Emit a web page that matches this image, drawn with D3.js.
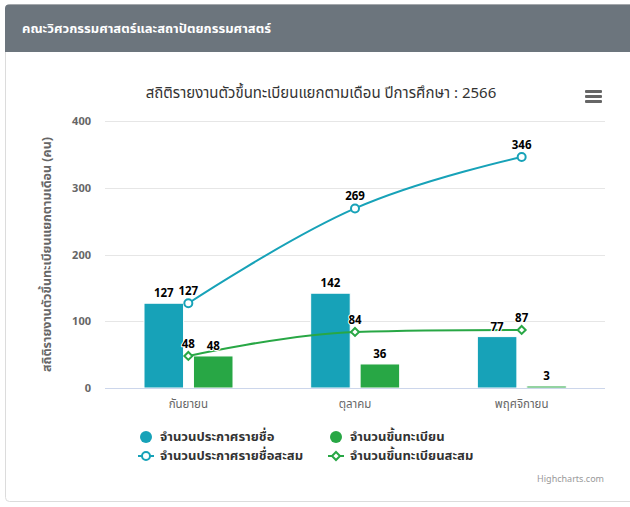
<!DOCTYPE html>
<html><head><meta charset="utf-8">
<script src="https://cdn.jsdelivr.net/npm/d3@7"></script>
<style>
body{margin:0;background:#fff;font-family:"Noto Sans Thai","Tahoma","DejaVu Sans",sans-serif;}
svg{display:block}
</style></head>
<body>
<svg id="c" width="630" height="507"></svg>
<script>
const categories = ["กันยายน", "ตุลาคม", "พฤศจิกายน"];
const announced = [127, 142, 77];
const registered = [48, 36, 3];
const announcedCum = [127, 269, 346];
const registeredCum = [48, 84, 87];
const yTicks = [0, 100, 200, 300, 400];
const seriesNames = ["จำนวนประกาศรายชื่อ", "จำนวนขึ้นทะเบียน", "จำนวนประกาศรายชื่อสะสม", "จำนวนขึ้นทะเบียนสะสม"];
const chartTitle = "สถิติรายงานตัวขึ้นทะเบียนแยกตามเดือน ปีการศึกษา : 2566";
const yTitle = "สถิติรายงานตัวขึ้นทะเบียนแยกตามเดือน (คน)";
const headerText = "คณะวิศวกรรมศาสตร์และสถาปัตยกรรมศาสตร์";

const BLUE = "#17a2b8", GREEN = "#28a745";
const svg = d3.select("#c");

// card
svg.append("rect").attr("x", 5.5).attr("y", 4.5).attr("width", 640).attr("height", 497)
  .attr("rx", 4).attr("fill", "#fff").attr("stroke", "#dcdcdc");
svg.append("path").attr("d", "M5,52 V8.5 a4,4 0 0 1 4,-4 H640 V52 Z").attr("fill", "#6c757d");
svg.append("text").attr("x", 22).attr("y", 33).attr("fill", "#fff").attr("font-size", 13)
  .attr("font-weight", "bold").text(headerText);

const L = 105, R = 605, T = 121, B = 388;
const x = d3.scaleBand().domain(categories).range([L, R]);
const y = d3.scaleLinear().domain([0, 400]).range([B, T]);

// title
svg.append("text").attr("x", 321).attr("y", 98).attr("text-anchor", "middle")
  .attr("font-size", 15).attr("fill", "#333").text(chartTitle);
// menu icon
[0, 5, 10].forEach(d => svg.append("rect").attr("x", 585).attr("y", 90 + d).attr("width", 17).attr("height", 3)
  .attr("fill", "#666").attr("rx", 1));

// grid
svg.append("g").selectAll("line").data(yTicks.filter(d => d > 0)).join("line")
  .attr("x1", L).attr("x2", R).attr("y1", d => Math.round(y(d)) + 0.5).attr("y2", d => Math.round(y(d)) + 0.5)
  .attr("stroke", "#e6e6e6");
// y labels
svg.append("g").selectAll("text").data(yTicks).join("text")
  .attr("x", 91).attr("y", d => y(d) + 4).attr("text-anchor", "end")
  .attr("font-size", 11).attr("font-weight", "bold").attr("fill", "#666").text(d => d);
// y title
svg.append("text").attr("transform", `translate(51,${(T + B) / 2}) rotate(-90)`).attr("text-anchor", "middle")
  .attr("font-size", 12.5).attr("font-weight", "bold").attr("fill", "#666").text(yTitle);

// bars
const bw = x.bandwidth();
const sub = d3.scaleBand().domain([0, 1]).range([bw * 0.234, bw * 0.768]).paddingInner(0.2);
function bars(vals, idx, color) {
  svg.append("g").selectAll("rect").data(vals).join("rect")
    .attr("x", (d, i) => x(categories[i]) + sub(idx)).attr("width", sub.bandwidth())
    .attr("y", d => y(d)).attr("height", d => B - y(d)).attr("fill", color)
    .attr("stroke", "#fff").attr("stroke-width", 1);
}
bars(announced, 0, BLUE);
bars(registered, 1, GREEN);

// x axis
svg.append("line").attr("x1", L).attr("x2", R).attr("y1", B + 0.5).attr("y2", B + 0.5).attr("stroke", "#ccd6eb");
svg.append("g").selectAll("text").data(categories).join("text")
  .attr("x", d => x(d) + x.bandwidth() / 2).attr("y", 408).attr("text-anchor", "middle")
  .attr("font-size", 11.5).attr("fill", "#666").text(d => d);

// highcharts-like spline
function spline(pts) {
  const sm = 1.5, den = sm + 1;
  const cps = pts.map((p, i) => {
    if (i === 0 || i === pts.length - 1) return null;
    const a = pts[i - 1], n = pts[i + 1];
    let lx = (sm * p[0] + a[0]) / den, ly = (sm * p[1] + a[1]) / den;
    let rx = (sm * p[0] + n[0]) / den, ry = (sm * p[1] + n[1]) / den;
    if (rx !== lx) {
      const corr = ((ry - ly) * (rx - p[0])) / (rx - lx) + p[1] - ry;
      ly += corr; ry += corr;
    }
    if (ly > a[1] && ly > p[1]) { ly = Math.max(a[1], p[1]); ry = 2 * p[1] - ly; }
    else if (ly < a[1] && ly < p[1]) { ly = Math.min(a[1], p[1]); ry = 2 * p[1] - ly; }
    if (ry > n[1] && ry > p[1]) { ry = Math.max(n[1], p[1]); ly = 2 * p[1] - ry; }
    else if (ry < n[1] && ry < p[1]) { ry = Math.min(n[1], p[1]); ly = 2 * p[1] - ry; }
    return {lx, ly, rx, ry};
  });
  const path = d3.path();
  path.moveTo(pts[0][0], pts[0][1]);
  for (let i = 1; i < pts.length; i++) {
    const prev = cps[i - 1], cur = cps[i];
    path.bezierCurveTo(prev ? prev.rx : pts[i - 1][0], prev ? prev.ry : pts[i - 1][1],
      cur ? cur.lx : pts[i][0], cur ? cur.ly : pts[i][1], pts[i][0], pts[i][1]);
  }
  return path.toString();
}
function lineSeries(vals, color, diamond) {
  const pts = vals.map((v, i) => [x(categories[i]) + x.bandwidth() / 2, y(v)]);
  svg.append("path").attr("d", spline(pts)).attr("fill", "none").attr("stroke", color).attr("stroke-width", 2);
  pts.forEach(p => marker(p[0], p[1], color, diamond));
  return pts;
}
function marker(cx, cy, color, diamond) {
  if (diamond) svg.append("path").attr("d", `M${cx},${cy - 4}L${cx + 4},${cy}L${cx},${cy + 4}L${cx - 4},${cy}Z`)
    .attr("fill", "#fff").attr("stroke", color).attr("stroke-width", 2);
  else svg.append("circle").attr("cx", cx).attr("cy", cy).attr("r", 4).attr("fill", "#fff")
    .attr("stroke", color).attr("stroke-width", 2);
}
const p1 = lineSeries(announcedCum, BLUE, false);
const p2 = lineSeries(registeredCum, GREEN, true);

// data labels
function label(tx, ty, t) {
  const g = svg.append("g");
  g.append("text").attr("x", tx).attr("y", ty).attr("text-anchor", "middle").attr("font-size", 11.5)
    .attr("font-weight", "bold").attr("stroke", "#fff").attr("stroke-width", 2).attr("stroke-linejoin", "round")
    .attr("fill", "#fff").text(t);
  g.append("text").attr("x", tx).attr("y", ty).attr("text-anchor", "middle").attr("font-size", 11.5)
    .attr("font-weight", "bold").attr("fill", "#000").text(t);
}
announced.forEach((v, i) => label(x(categories[i]) + sub(0) + sub.bandwidth() / 2, y(v) - 6, v));
registered.forEach((v, i) => label(x(categories[i]) + sub(1) + sub.bandwidth() / 2, y(v) - 6, v));
announcedCum.forEach((v, i) => label(p1[i][0], p1[i][1] - 8, v));
registeredCum.forEach((v, i) => label(p2[i][0], p2[i][1] - 8, v));

// legend
const leg = [
  {name: seriesNames[0], color: BLUE, type: "bar", x: 138, y: 437},
  {name: seriesNames[1], color: GREEN, type: "bar", x: 328, y: 437},
  {name: seriesNames[2], color: BLUE, type: "line", x: 138, y: 456, diamond: false},
  {name: seriesNames[3], color: GREEN, type: "line", x: 328, y: 456, diamond: true}
];
leg.forEach(d => {
  if (d.type === "bar") svg.append("circle").attr("cx", d.x + 8).attr("cy", d.y).attr("r", 6).attr("fill", d.color);
  else {
    svg.append("line").attr("x1", d.x).attr("x2", d.x + 16).attr("y1", d.y).attr("y2", d.y)
      .attr("stroke", d.color).attr("stroke-width", 2);
    marker(d.x + 8, d.y, d.color, d.diamond);
  }
  svg.append("text").attr("x", d.x + 22).attr("y", d.y + 4).attr("font-size", 13).attr("font-weight", "bold")
    .attr("fill", "#333").text(d.name);
});
svg.append("text").attr("x", 604).attr("y", 482).attr("text-anchor", "end").attr("font-size", 9)
  .attr("fill", "#999").text("Highcharts.com");
</script>
</body></html>
